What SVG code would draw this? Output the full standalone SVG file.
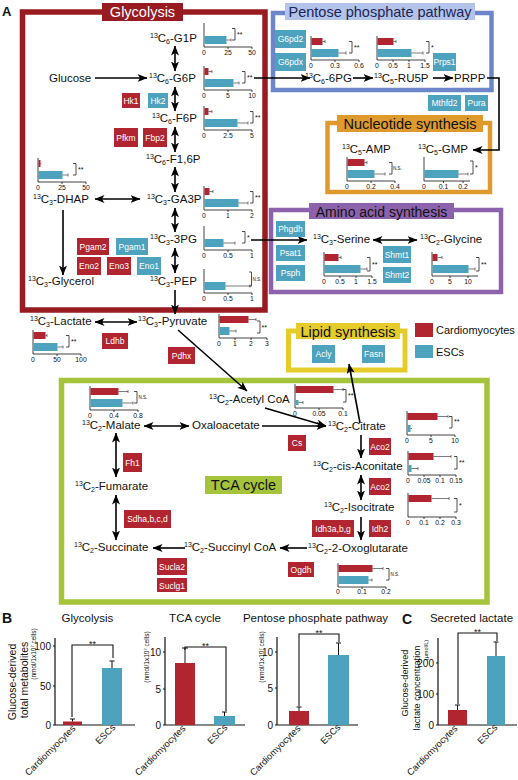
<svg xmlns="http://www.w3.org/2000/svg" width="518" height="780" viewBox="0 0 518 780">
<style>
text{font-family:"Liberation Sans",Arial,sans-serif;fill:#111}
.m{font-size:11.5px}
.s{font-size:7px}
.et{font-size:8.5px;fill:#fff;text-anchor:middle}
.er{fill:#b0252f}
.eb{fill:#4da2bd}
.ax{fill:none;stroke:#111;stroke-width:0.8}
.tl{font-size:6.8px;text-anchor:middle}
.rb{fill:#b0252f}
.bb{fill:#4da2bd}
.err{fill:none;stroke:#444;stroke-width:0.7}
.br{fill:none;stroke:#222;stroke-width:0.8}
.st{font-size:7px}
.ns{font-size:4.5px}
.ar path{stroke:#000;stroke-width:1.6;fill:none}
.bax{fill:none;stroke:#111;stroke-width:1.2}
.bl{font-size:10px;text-anchor:end}
.pt{font-size:11.5px;text-anchor:middle}
.bt{font-size:14.5px;text-anchor:middle}
.xl{font-size:9.3px;text-anchor:end}
.bbr{fill:none;stroke:#111;stroke-width:1.1}
</style>
<defs>
<marker id="ah" viewBox="0 0 10 8" refX="9.5" refY="4" markerWidth="10" markerHeight="8" markerUnits="userSpaceOnUse" orient="auto-start-reverse"><path d="M0,0 L10,4 L0,8 L2.5,4 z" fill="#000"/></marker>
</defs>
<rect width="518" height="780" fill="#fff"/>

<!-- pathway boxes -->
<g id="box-glycolysis">
<rect x="22.5" y="12" width="242.5" height="298" fill="none" stroke="#971b20" stroke-width="5.5"/>
<rect x="102" y="3" width="81" height="18" fill="#971b20"/>
<text class="bt" x="142.5" y="17" style="fill:#fff">Glycolysis</text>
</g>
<g id="box-ppp">
<rect x="273" y="13" width="218.5" height="77" fill="none" stroke="#6d86c9" stroke-width="4.5"/>
<rect x="285" y="3" width="190" height="17" fill="#b3c3ea"/>
<text class="bt" x="380" y="16.5" style="fill:#1c2554">Pentose phosphate pathway</text>
</g>
<g id="box-nucleotide">
<rect x="327.5" y="123" width="162.5" height="69" fill="none" stroke="#df9a2e" stroke-width="4.5"/>
<rect x="337" y="115" width="146" height="17" fill="#df9a2e"/>
<text class="bt" x="410" y="128.5">Nucleotide synthesis</text>
</g>
<g id="box-amino">
<rect x="271" y="210" width="230" height="82" fill="none" stroke="#8c62ad" stroke-width="4.5"/>
<rect x="309" y="203" width="145" height="16" fill="#8c62ad"/>
<text class="bt" x="381.5" y="216.5" style="font-size:14px">Amino acid synthesis</text>
</g>
<g id="box-lipid">
<rect x="288.5" y="331" width="116.5" height="39" fill="none" stroke="#e6cc2b" stroke-width="5"/>
<rect x="296" y="323" width="104" height="16" fill="#e6cc2b"/>
<text class="bt" x="348" y="337">Lipid synthesis</text>
</g>
<g id="box-tca">
<rect x="61.5" y="380.5" width="425.5" height="221.5" fill="none" stroke="#a5c43c" stroke-width="5.5"/>
<rect x="205" y="476" width="77" height="18" fill="#a5c43c"/>
<text class="bt" x="243.5" y="490">TCA cycle</text>
</g>

<text x="2" y="16" style="font-size:13px;font-weight:bold">A</text>

<!-- legend -->
<g id="legend">
<rect x="415" y="323" width="18" height="14" class="rb"/>
<text x="436" y="334" style="font-size:11px">Cardiomyocytes</text>
<rect x="415" y="345" width="18" height="13" class="bb"/>
<text x="436" y="356" style="font-size:11px">ESCs</text>
</g>

<!-- connectors -->
<g id="connectors" class="ar">
<path d="M95,78H147" marker-end="url(#ah)"/>
<path d="M175,46V71" marker-start="url(#ah)" marker-end="url(#ah)"/>
<path d="M175,87V111" marker-start="url(#ah)" marker-end="url(#ah)"/>
<path d="M175,127V152" marker-start="url(#ah)" marker-end="url(#ah)"/>
<path d="M175,167V192" marker-start="url(#ah)" marker-end="url(#ah)"/>
<path d="M95,199H140" marker-start="url(#ah)" marker-end="url(#ah)"/>
<path d="M63,210V275" marker-end="url(#ah)"/>
<path d="M175,208V232" marker-start="url(#ah)" marker-end="url(#ah)"/>
<path d="M175,248V273" marker-start="url(#ah)" marker-end="url(#ah)"/>
<path d="M175,290V314" marker-end="url(#ah)"/>
<path d="M95,322H137" marker-start="url(#ah)" marker-end="url(#ah)"/>
<path d="M254,78H310" marker-end="url(#ah)"/>
<path d="M353,78H373" marker-end="url(#ah)"/>
<path d="M433,78H453" marker-end="url(#ah)"/>
<path d="M487,78H499V150H473" marker-end="url(#ah)"/>
<path d="M251,240H307" marker-end="url(#ah)"/>
<path d="M373,240H417" marker-start="url(#ah)" marker-end="url(#ah)"/>
<path d="M178,330L247,391" marker-end="url(#ah)"/>
<path d="M265,408L326,426" marker-end="url(#ah)"/>
<path d="M262,426H326" marker-end="url(#ah)"/>
<path d="M144,426H189" marker-start="url(#ah)" marker-end="url(#ah)"/>
<path d="M360,423L349,364" marker-end="url(#ah)"/>
<path d="M361,435V458" marker-end="url(#ah)"/>
<path d="M361,475V500" marker-start="url(#ah)" marker-end="url(#ah)"/>
<path d="M361,517V540" marker-end="url(#ah)"/>
<path d="M307,548H280" marker-end="url(#ah)"/>
<path d="M185,548H153" marker-end="url(#ah)"/>
<path d="M116,495V540" marker-start="url(#ah)" marker-end="url(#ah)"/>
<path d="M116,433V477" marker-start="url(#ah)" marker-end="url(#ah)"/>
</g>

<!-- metabolite nodes -->
<g id="n-glucose"><text class="m" x="49" y="82">Glucose</text></g>
<g id="n-g1p"><text class="m" x="150" y="42"><tspan class="s" dy="-4.5">13</tspan><tspan dy="4.5">C</tspan><tspan class="s" dy="1.5">6</tspan><tspan dy="-1.5">-G1P</tspan></text></g>
<g id="n-g6p"><text class="m" x="149" y="82"><tspan class="s" dy="-4.5">13</tspan><tspan dy="4.5">C</tspan><tspan class="s" dy="1.5">6</tspan><tspan dy="-1.5">-G6P</tspan></text></g>
<g id="n-f6p"><text class="m" x="152" y="122"><tspan class="s" dy="-4.5">13</tspan><tspan dy="4.5">C</tspan><tspan class="s" dy="1.5">6</tspan><tspan dy="-1.5">-F6P</tspan></text></g>
<g id="n-f16p"><text class="m" x="146" y="163"><tspan class="s" dy="-4.5">13</tspan><tspan dy="4.5">C</tspan><tspan class="s" dy="1.5">6</tspan><tspan dy="-1.5">-F1,6P</tspan></text></g>
<g id="n-dhap"><text class="m" x="33" y="203"><tspan class="s" dy="-4.5">13</tspan><tspan dy="4.5">C</tspan><tspan class="s" dy="1.5">3</tspan><tspan dy="-1.5">-DHAP</tspan></text></g>
<g id="n-ga3p"><text class="m" x="147" y="203"><tspan class="s" dy="-4.5">13</tspan><tspan dy="4.5">C</tspan><tspan class="s" dy="1.5">3</tspan><tspan dy="-1.5">-GA3P</tspan></text></g>
<g id="n-3pg"><text class="m" x="150" y="243"><tspan class="s" dy="-4.5">13</tspan><tspan dy="4.5">C</tspan><tspan class="s" dy="1.5">3</tspan><tspan dy="-1.5">-3PG</tspan></text></g>
<g id="n-glycerol"><text class="m" x="28" y="285"><tspan class="s" dy="-4.5">13</tspan><tspan dy="4.5">C</tspan><tspan class="s" dy="1.5">3</tspan><tspan dy="-1.5">-Glycerol</tspan></text></g>
<g id="n-pep"><text class="m" x="150" y="285"><tspan class="s" dy="-4.5">13</tspan><tspan dy="4.5">C</tspan><tspan class="s" dy="1.5">3</tspan><tspan dy="-1.5">-PEP</tspan></text></g>
<g id="n-lactate"><text class="m" x="30" y="325"><tspan class="s" dy="-4.5">13</tspan><tspan dy="4.5">C</tspan><tspan class="s" dy="1.5">3</tspan><tspan dy="-1.5">-Lactate</tspan></text></g>
<g id="n-pyruvate"><text class="m" x="138" y="325"><tspan class="s" dy="-4.5">13</tspan><tspan dy="4.5">C</tspan><tspan class="s" dy="1.5">3</tspan><tspan dy="-1.5">-Pyruvate</tspan></text></g>
<g id="n-6pg"><text class="m" x="305" y="82"><tspan class="s" dy="-4.5">13</tspan><tspan dy="4.5">C</tspan><tspan class="s" dy="1.5">6</tspan><tspan dy="-1.5">-6PG</tspan></text></g>
<g id="n-ru5p"><text class="m" x="374" y="82"><tspan class="s" dy="-4.5">13</tspan><tspan dy="4.5">C</tspan><tspan class="s" dy="1.5">5</tspan><tspan dy="-1.5">-RU5P</tspan></text></g>
<g id="n-prpp"><text class="m" x="454" y="82">PRPP</text></g>
<g id="n-amp"><text class="m" x="342" y="153"><tspan class="s" dy="-4.5">13</tspan><tspan dy="4.5">C</tspan><tspan class="s" dy="1.5">5</tspan><tspan dy="-1.5">-AMP</tspan></text></g>
<g id="n-gmp"><text class="m" x="418" y="153"><tspan class="s" dy="-4.5">13</tspan><tspan dy="4.5">C</tspan><tspan class="s" dy="1.5">5</tspan><tspan dy="-1.5">-GMP</tspan></text></g>
<g id="n-serine"><text class="m" x="313" y="243"><tspan class="s" dy="-4.5">13</tspan><tspan dy="4.5">C</tspan><tspan class="s" dy="1.5">3</tspan><tspan dy="-1.5">-Serine</tspan></text></g>
<g id="n-glycine"><text class="m" x="420" y="243"><tspan class="s" dy="-4.5">13</tspan><tspan dy="4.5">C</tspan><tspan class="s" dy="1.5">2</tspan><tspan dy="-1.5">-Glycine</tspan></text></g>
<g id="n-acetylcoa"><text class="m" x="209" y="403"><tspan class="s" dy="-4.5">13</tspan><tspan dy="4.5">C</tspan><tspan class="s" dy="1.5">2</tspan><tspan dy="-1.5">-Acetyl CoA</tspan></text></g>
<g id="n-malate"><text class="m" x="82" y="429"><tspan class="s" dy="-4.5">13</tspan><tspan dy="4.5">C</tspan><tspan class="s" dy="1.5">2</tspan><tspan dy="-1.5">-Malate</tspan></text></g>
<g id="n-oxaloacetate"><text class="m" x="192" y="429">Oxaloacetate</text></g>
<g id="n-citrate"><text class="m" x="328" y="430"><tspan class="s" dy="-4.5">13</tspan><tspan dy="4.5">C</tspan><tspan class="s" dy="1.5">2</tspan><tspan dy="-1.5">-Citrate</tspan></text></g>
<g id="n-cisaconitate"><text class="m" x="313" y="470"><tspan class="s" dy="-4.5">13</tspan><tspan dy="4.5">C</tspan><tspan class="s" dy="1.5">2</tspan><tspan dy="-1.5">-cis-Aconitate</tspan></text></g>
<g id="n-isocitrate"><text class="m" x="324" y="511"><tspan class="s" dy="-4.5">13</tspan><tspan dy="4.5">C</tspan><tspan class="s" dy="1.5">2</tspan><tspan dy="-1.5">-Isocitrate</tspan></text></g>
<g id="n-oxoglutarate"><text class="m" x="308" y="552"><tspan class="s" dy="-4.5">13</tspan><tspan dy="4.5">C</tspan><tspan class="s" dy="1.5">2</tspan><tspan dy="-1.5">-2-Oxoglutarate</tspan></text></g>
<g id="n-succinylcoa"><text class="m" x="184" y="551"><tspan class="s" dy="-4.5">13</tspan><tspan dy="4.5">C</tspan><tspan class="s" dy="1.5">2</tspan><tspan dy="-1.5">-Succinyl CoA</tspan></text></g>
<g id="n-succinate"><text class="m" x="74" y="551"><tspan class="s" dy="-4.5">13</tspan><tspan dy="4.5">C</tspan><tspan class="s" dy="1.5">2</tspan><tspan dy="-1.5">-Succinate</tspan></text></g>
<g id="n-fumarate"><text class="m" x="75" y="490"><tspan class="s" dy="-4.5">13</tspan><tspan dy="4.5">C</tspan><tspan class="s" dy="1.5">2</tspan><tspan dy="-1.5">-Fumarate</tspan></text></g>

<!-- enzymes -->
<g id="e-hk1"><rect class="er" x="122" y="93" width="18" height="15"/><text class="et" x="131" y="103.5">Hk1</text></g>
<g id="e-hk2"><rect class="eb" x="148" y="93" width="20" height="15"/><text class="et" x="158" y="103.5">Hk2</text></g>
<g id="e-pfkm"><rect class="er" x="114" y="128" width="24" height="19"/><text class="et" x="126" y="140.5">Pfkm</text></g>
<g id="e-fbp2"><rect class="er" x="143" y="128" width="24" height="19"/><text class="et" x="155" y="140.5">Fbp2</text></g>
<g id="e-pgam2"><rect class="er" x="77" y="238" width="32" height="17"/><text class="et" x="93" y="249.5">Pgam2</text></g>
<g id="e-pgam1"><rect class="eb" x="116" y="238" width="32" height="17"/><text class="et" x="132" y="249.5">Pgam1</text></g>
<g id="e-eno2"><rect class="er" x="77" y="257" width="24" height="18"/><text class="et" x="89" y="269">Eno2</text></g>
<g id="e-eno3"><rect class="er" x="107" y="257" width="24" height="18"/><text class="et" x="119" y="269">Eno3</text></g>
<g id="e-eno1"><rect class="eb" x="137" y="257" width="24" height="18"/><text class="et" x="149" y="269">Eno1</text></g>
<g id="e-ldhb"><rect class="er" x="102" y="333" width="26" height="16"/><text class="et" x="115" y="344">Ldhb</text></g>
<g id="e-pdhx"><rect class="er" x="168" y="347" width="27" height="17"/><text class="et" x="181.5" y="358.5">Pdhx</text></g>
<g id="e-g6pd2"><rect class="eb" x="275" y="30" width="31" height="18"/><text class="et" x="290.5" y="42">G6pd2</text></g>
<g id="e-g6pdx"><rect class="eb" x="275" y="53" width="31" height="18"/><text class="et" x="290.5" y="65">G6pdx</text></g>
<g id="e-prps1"><rect class="eb" x="433" y="53" width="23" height="18"/><text class="et" x="444.5" y="65">Prps1</text></g>
<g id="e-mthfd2"><rect class="eb" x="428" y="95" width="33" height="16"/><text class="et" x="444.5" y="106">Mthfd2</text></g>
<g id="e-pura"><rect class="eb" x="465" y="95" width="23" height="16"/><text class="et" x="476.5" y="106">Pura</text></g>
<g id="e-phgdh"><rect class="eb" x="276" y="221" width="29" height="16"/><text class="et" x="290.5" y="232">Phgdh</text></g>
<g id="e-psat1"><rect class="eb" x="276" y="245" width="29" height="16"/><text class="et" x="290.5" y="256">Psat1</text></g>
<g id="e-psph"><rect class="eb" x="276" y="265" width="29" height="16"/><text class="et" x="290.5" y="276">Psph</text></g>
<g id="e-shmt1"><rect class="eb" x="383" y="246" width="28" height="17"/><text class="et" x="397" y="257.5">Shmt1</text></g>
<g id="e-shmt2"><rect class="eb" x="383" y="267" width="28" height="16"/><text class="et" x="397" y="278">Shmt2</text></g>
<g id="e-acly"><rect class="eb" x="312" y="345" width="23" height="18"/><text class="et" x="323.5" y="357">Acly</text></g>
<g id="e-fasn"><rect class="eb" x="362" y="345" width="23" height="18"/><text class="et" x="373.5" y="357">Fasn</text></g>
<g id="e-cs"><rect class="er" x="288" y="435" width="18" height="16"/><text class="et" x="297" y="446">Cs</text></g>
<g id="e-fh1"><rect class="er" x="123" y="453" width="19" height="19"/><text class="et" x="132.5" y="465.5">Fh1</text></g>
<g id="e-aco2a"><rect class="er" x="369" y="438" width="22" height="17"/><text class="et" x="380" y="449.5">Aco2</text></g>
<g id="e-aco2b"><rect class="er" x="369" y="478" width="22" height="17"/><text class="et" x="380" y="489.5">Aco2</text></g>
<g id="e-idh3"><rect class="er" x="312" y="520" width="42" height="17"/><text class="et" x="333" y="531.5">Idh3a,b,g</text></g>
<g id="e-idh2"><rect class="er" x="369" y="520" width="22" height="17"/><text class="et" x="380" y="531.5">Idh2</text></g>
<g id="e-sdh"><rect class="er" x="124" y="510" width="47" height="18"/><text class="et" x="147.5" y="522">Sdha,b,c,d</text></g>
<g id="e-ogdh"><rect class="er" x="288" y="562" width="26" height="15"/><text class="et" x="301" y="572.5">Ogdh</text></g>
<g id="e-sucla2"><rect class="er" x="157" y="558" width="30" height="17"/><text class="et" x="172" y="569.5">Sucla2</text></g>
<g id="e-suclg1"><rect class="er" x="157" y="578" width="30" height="14"/><text class="et" x="172" y="588.5">Suclg1</text></g>

<!-- small bar charts -->
<g id="c-g1p" transform="translate(204,23)">
<path class="ax" d="M0,0V24H48M24,24v2M48,24v2"/>
<text class="tl" x="0" y="32">0</text><text class="tl" x="24" y="32">25</text><text class="tl" x="48" y="32">50</text>
<rect class="bb" x="0.5" y="13" width="22" height="8"/>
<path class="err" d="M22.5,17H27M27,15.5V18.5"/>
<path class="br" d="M28,5.5H31V17H28"/><text class="st" x="33" y="14">**</text>
</g>
<g id="c-g6p" transform="translate(204,66)">
<path class="ax" d="M0,0V24H48M24,24v2M48,24v2"/>
<text class="tl" x="0" y="32">0</text><text class="tl" x="24" y="32">5</text><text class="tl" x="48" y="32">10</text>
<rect class="rb" x="0.5" y="2" width="4" height="7"/><path class="err" d="M4.5,5.5H8M8,4V7"/>
<rect class="bb" x="0.5" y="13" width="29" height="8"/><path class="err" d="M29.5,17H35M35,15.5V18.5"/>
<path class="br" d="M38,5.5H41V17H38"/><text class="st" x="43" y="14">**</text>
</g>
<g id="c-f6p" transform="translate(204,106)">
<path class="ax" d="M0,0V24H48M24,24v2M48,24v2"/>
<text class="tl" x="0" y="32">0</text><text class="tl" x="24" y="32">2.5</text><text class="tl" x="48" y="32">5</text>
<rect class="rb" x="0.5" y="2" width="4" height="7"/><path class="err" d="M4.5,5.5H8M8,4V7"/>
<rect class="bb" x="0.5" y="13" width="33" height="8"/><path class="err" d="M33.5,17H44M44,15.5V18.5"/>
<path class="br" d="M46,5.5H49V17H46"/><text class="st" x="51" y="14">**</text>
</g>
<g id="c-dhap" transform="translate(38,158)">
<path class="ax" d="M0,0V24H48M24,24v2M48,24v2"/>
<text class="tl" x="0" y="32">0</text><text class="tl" x="24" y="32">25</text><text class="tl" x="48" y="32">50</text>
<rect class="rb" x="0.5" y="2" width="2" height="7"/><path class="err" d="M2.5,5.5H3.5"/>
<rect class="bb" x="0.5" y="13" width="24" height="8"/><path class="err" d="M24.5,17H30M30,15.5V18.5"/>
<path class="br" d="M35,5.5H38V17H35"/><text class="st" x="40" y="14">**</text>
</g>
<g id="c-ga3p" transform="translate(204,186)">
<path class="ax" d="M0,0V24H48M24,24v2M48,24v2"/>
<text class="tl" x="0" y="32">0</text><text class="tl" x="24" y="32">1</text><text class="tl" x="48" y="32">2</text>
<rect class="rb" x="0.5" y="2" width="5" height="7"/><path class="err" d="M5.5,5.5H9M9,4V7"/>
<rect class="bb" x="0.5" y="13" width="34" height="8"/><path class="err" d="M34.5,17H44M44,15.5V18.5"/>
<path class="br" d="M46,5.5H49V17H46"/><text class="st" x="51" y="14">**</text>
</g>
<g id="c-3pg" transform="translate(204,226)">
<path class="ax" d="M0,0V24H48M24,24v2M48,24v2"/>
<text class="tl" x="0" y="32">0</text><text class="tl" x="24" y="32">0.5</text><text class="tl" x="48" y="32">1</text>
<rect class="bb" x="0.5" y="13" width="19" height="8"/><path class="err" d="M19.5,17H31M31,15.5V18.5"/>
<path class="br" d="M38,5.5H41V17H38"/><text class="st" x="43" y="14">*</text>
</g>
<g id="c-pep" transform="translate(204,269)">
<path class="ax" d="M0,0V24H48M24,24v2M48,24v2"/>
<text class="tl" x="0" y="32">0</text><text class="tl" x="24" y="32">0.5</text><text class="tl" x="48" y="32">1</text>
<rect class="bb" x="0.5" y="13" width="21" height="8"/><path class="err" d="M21.5,17H46M46,15.5V18.5"/>
<path class="br" d="M45,3H47.5V17H45"/><text class="ns" x="48.5" y="12">N.S.</text>
</g>
<g id="c-pyruvate" transform="translate(219,314)">
<path class="ax" d="M0,0V24H48M16,24v2M32,24v2M48,24v2"/>
<text class="tl" x="0" y="32">0</text><text class="tl" x="16" y="32">1</text><text class="tl" x="32" y="32">2</text><text class="tl" x="48" y="32">3</text>
<rect class="rb" x="0.5" y="2" width="29" height="7"/><path class="err" d="M29.5,5.5H37M37,4V7"/>
<rect class="bb" x="0.5" y="13" width="10" height="8"/><path class="err" d="M10.5,17H17M17,15.5V18.5"/>
<path class="br" d="M38,7H41V19H38"/><text class="st" x="42.5" y="16">**</text>
</g>
<g id="c-lactate" transform="translate(33,330)">
<path class="ax" d="M0,0V24H48M24,24v2M48,24v2"/>
<text class="tl" x="0" y="32">0</text><text class="tl" x="24" y="32">50</text><text class="tl" x="48" y="32">100</text>
<rect class="rb" x="0.5" y="2" width="12" height="7"/><path class="err" d="M12.5,5.5H14M14,4V7"/>
<rect class="bb" x="0.5" y="13" width="24" height="8"/><path class="err" d="M24.5,17H30M30,15.5V18.5"/>
<path class="br" d="M33,5.5H36V17H33"/><text class="st" x="38" y="14">**</text>
</g>
<g id="c-6pg" transform="translate(311,36)">
<path class="ax" d="M0,0V24H48M24,24v2M48,24v2"/>
<text class="tl" x="0" y="32">0</text><text class="tl" x="24" y="32">0.3</text><text class="tl" x="48" y="32">0.6</text>
<rect class="rb" x="0.5" y="2" width="11" height="7"/><path class="err" d="M11.5,5.5H14M14,4V7"/>
<rect class="bb" x="0.5" y="13" width="27" height="8"/><path class="err" d="M27.5,17H35M35,15.5V18.5"/>
<path class="br" d="M38,5.5H41V17H38"/><text class="st" x="43" y="14">**</text>
</g>
<g id="c-ru5p" transform="translate(377,36)">
<path class="ax" d="M0,0V24H48M16,24v2M32,24v2M48,24v2"/>
<text class="tl" x="0" y="32">0</text><text class="tl" x="16" y="32">0.5</text><text class="tl" x="32" y="32">1</text><text class="tl" x="48" y="32">1.5</text>
<rect class="rb" x="0.5" y="2" width="16" height="7"/><path class="err" d="M16.5,5.5H19M19,4V7"/>
<rect class="bb" x="0.5" y="13" width="34" height="8"/><path class="err" d="M34.5,17H46M46,15.5V18.5"/>
<path class="br" d="M49,5.5H52V17H49"/><text class="st" x="54" y="14">*</text>
</g>
<g id="c-amp" transform="translate(347,157)">
<path class="ax" d="M0,0V24H48M24,24v2M48,24v2"/>
<text class="tl" x="0" y="32">0</text><text class="tl" x="24" y="32">0.2</text><text class="tl" x="48" y="32">0.4</text>
<rect class="rb" x="0.5" y="2" width="17" height="7"/><path class="err" d="M17.5,5.5H20M20,4V7"/>
<rect class="bb" x="0.5" y="13" width="27" height="8"/><path class="err" d="M27.5,17H38M38,15.5V18.5"/>
<path class="br" d="M42,5.5H45V17H42"/><text class="ns" x="46" y="13">N.S.</text>
</g>
<g id="c-gmp" transform="translate(424,157)">
<path class="ax" d="M0,0V24H46M19.5,24v2M39,24v2"/>
<text class="tl" x="0" y="32">0</text><text class="tl" x="19.5" y="32">0.1</text><text class="tl" x="39" y="32">0.2</text>
<rect class="bb" x="0.5" y="13" width="34" height="8"/><path class="err" d="M34.5,17H44M44,15.5V18.5"/>
<path class="br" d="M46,4H49V17H46"/><text class="st" x="51" y="13">*</text>
</g>
<g id="c-serine" transform="translate(324,252)">
<path class="ax" d="M0,0V24H48M16,24v2M32,24v2M48,24v2"/>
<text class="tl" x="0" y="32">0</text><text class="tl" x="16" y="32">0.5</text><text class="tl" x="32" y="32">1</text><text class="tl" x="48" y="32">1.5</text>
<rect class="rb" x="0.5" y="2" width="14" height="7"/><path class="err" d="M14.5,5.5H17M17,4V7"/>
<rect class="bb" x="0.5" y="13" width="36" height="8"/><path class="err" d="M36.5,17H43M43,15.5V18.5"/>
<path class="br" d="M43,5.5H46V19H43"/><text class="st" x="48" y="15">**</text>
</g>
<g id="c-glycine" transform="translate(432,252)">
<path class="ax" d="M0,0V24H46M18,24v2M36,24v2"/>
<text class="tl" x="0" y="32">0</text><text class="tl" x="18" y="32">5</text><text class="tl" x="36" y="32">10</text>
<rect class="rb" x="0.5" y="2" width="5" height="7"/><path class="err" d="M5.5,5.5H10M10,4V7"/>
<rect class="bb" x="0.5" y="13" width="36" height="8"/><path class="err" d="M36.5,17H43M43,15.5V18.5"/>
<path class="br" d="M44,5.5H47V19H44"/><text class="st" x="49" y="15">**</text>
</g>
<g id="c-acetylcoa" transform="translate(295,384)">
<path class="ax" d="M0,0V24H48M24,24v2M48,24v2"/>
<text class="tl" x="0" y="32">0</text><text class="tl" x="24" y="32">0.05</text><text class="tl" x="48" y="32">0.1</text>
<rect class="rb" x="0.5" y="2" width="38" height="7"/><path class="err" d="M38.5,5.5H48M48,4V7"/>
<rect class="bb" x="0.5" y="16" width="3" height="5"/><path class="err" d="M3.5,18.5H8M8,17V20"/>
<path class="br" d="M48,5.5H51V18H48"/><text class="st" x="53" y="14">**</text>
</g>
<g id="c-malate" transform="translate(90,386)">
<path class="ax" d="M0,0V24H48M24,24v2M48,24v2"/>
<text class="tl" x="0" y="32">0</text><text class="tl" x="24" y="32">0.4</text><text class="tl" x="48" y="32">0.8</text>
<rect class="rb" x="0.5" y="2" width="28" height="7"/><path class="err" d="M28.5,5.5H38M38,4V7"/>
<rect class="bb" x="0.5" y="13" width="32" height="8"/><path class="err" d="M32.5,17H43M43,15.5V18.5"/>
<path class="br" d="M44,5.5H47V17H44"/><text class="ns" x="48.5" y="13">N.S.</text>
</g>
<g id="c-citrate" transform="translate(407,411)">
<path class="ax" d="M0,0V24H48M24,24v2M48,24v2"/>
<text class="tl" x="0" y="32">0</text><text class="tl" x="24" y="32">5</text><text class="tl" x="48" y="32">10</text>
<rect class="rb" x="0.5" y="2" width="30" height="7"/><path class="err" d="M30.5,5.5H41M41,4V7"/>
<rect class="bb" x="0.5" y="14" width="3" height="7"/><path class="err" d="M3.5,17.5H5"/>
<path class="br" d="M42,5.5H45V17H42"/><text class="st" x="47" y="13">**</text>
</g>
<g id="c-cisaconitate" transform="translate(408,451)">
<path class="ax" d="M0,0V24H48M16,24v2M32,24v2M48,24v2"/>
<text class="tl" x="0" y="32">0</text><text class="tl" x="16" y="32">0.05</text><text class="tl" x="32" y="32">0.1</text><text class="tl" x="48" y="32">0.15</text>
<rect class="rb" x="0.5" y="2" width="25" height="7"/><path class="err" d="M25.5,5.5H43M43,4V7"/>
<rect class="bb" x="0.5" y="14" width="3" height="7"/><path class="err" d="M3.5,17.5H10M10,16V19"/>
<path class="br" d="M46,5.5H49V18H46"/><text class="st" x="51" y="14">**</text>
</g>
<g id="c-isocitrate" transform="translate(408,493)">
<path class="ax" d="M0,0V24H48M16,24v2M32,24v2M48,24v2"/>
<text class="tl" x="0" y="32">0</text><text class="tl" x="16" y="32">0.1</text><text class="tl" x="32" y="32">0.2</text><text class="tl" x="48" y="32">0.3</text>
<rect class="rb" x="0.5" y="2" width="23" height="7"/><path class="err" d="M23.5,5.5H41M41,4V7"/>
<path class="br" d="M46,5.5H49V19H46"/><text class="st" x="51" y="15">*</text>
</g>
<g id="c-oxoglutarate" transform="translate(338,563)">
<path class="ax" d="M0,0V24H48M24,24v2M48,24v2"/>
<text class="tl" x="0" y="31">0</text><text class="tl" x="24" y="31">0.1</text><text class="tl" x="48" y="31">0.2</text>
<rect class="rb" x="0.5" y="2" width="34" height="7"/><path class="err" d="M34.5,5.5H45M45,4V7"/>
<rect class="bb" x="0.5" y="13" width="30" height="8"/><path class="err" d="M30.5,17H34M34,15.5V18.5"/>
<path class="br" d="M48,5.5H51V17H48"/><text class="ns" x="52.5" y="13">N.S.</text>
</g>

<!-- Panel B -->
<text x="2" y="623" style="font-size:14px;font-weight:bold">B</text>
<g id="ylab-b">
<text class="pt" transform="translate(15.5,682) rotate(-90)" style="font-size:10.5px">Glucose-derived</text>
<text class="pt" transform="translate(27.5,680) rotate(-90)" style="font-size:10.5px">total metabolites</text>
<text class="pt" transform="translate(35.5,654) rotate(-90)" style="font-size:6.5px">(nmol/1x10<tspan dy="-2" style="font-size:4px">7</tspan><tspan dy="2"> cells)</tspan></text>
</g>
<g id="chart-b-gly">
<text class="pt" x="87.5" y="622">Glycolysis</text>
<path class="bax" d="M55,638V725H135M55,646h-2M55,686h-2M55,725h-2"/>
<text class="bl" x="51" y="650">100</text><text class="bl" x="51" y="690">50</text><text class="bl" x="51" y="729">0</text>
<rect class="rb" x="63" y="721.5" width="19" height="3.5"/>
<path class="err" style="stroke:#111;stroke-width:1" d="M72.5,721.5V719M70,719H75"/>
<rect class="bb" x="102" y="668" width="20" height="57"/>
<path class="err" style="stroke:#111;stroke-width:1" d="M112,668V661M109.5,661H114.5"/>
<path class="bbr" d="M72,717V645H113V658"/>
<text class="pt" x="92.5" y="647" style="font-size:9px">**</text>
<text class="xl" transform="translate(76,729) rotate(-45)">Cardiomyocytes</text>
<text class="xl" transform="translate(116,728) rotate(-45)">ESCs</text>
</g>
<g id="chart-b-tca">
<text class="pt" x="195" y="622">TCA cycle</text>
<text class="pt" transform="translate(148.5,657) rotate(-90)" style="font-size:6.5px">(nmol/1x10<tspan dy="-2" style="font-size:4px">7</tspan><tspan dy="2"> cells)</tspan></text>
<path class="bax" d="M165,637V725H245M165,652h-2M165,689h-2M165,725h-2"/>
<text class="bl" x="161" y="656">10</text><text class="bl" x="161" y="693">5</text><text class="bl" x="161" y="729">0</text>
<rect class="rb" x="175" y="663" width="20" height="62"/>
<path class="err" style="stroke:#111;stroke-width:1" d="M185,663V648M182,648H188"/>
<rect class="bb" x="214" y="716" width="21" height="9"/>
<path class="err" style="stroke:#111;stroke-width:1" d="M224.5,716V712M222,712H227"/>
<path class="bbr" d="M185,650V647H226V711"/>
<text class="pt" x="205.5" y="649" style="font-size:9px">**</text>
<text class="xl" transform="translate(186,729) rotate(-45)">Cardiomyocytes</text>
<text class="xl" transform="translate(228,728) rotate(-45)">ESCs</text>
</g>
<g id="chart-b-ppp">
<text class="pt" x="315.5" y="622">Pentose phosphate pathway</text>
<text class="pt" transform="translate(263.5,657) rotate(-90)" style="font-size:6.5px">(nmol/1x10<tspan dy="-2" style="font-size:4px">7</tspan><tspan dy="2"> cells)</tspan></text>
<path class="bax" d="M277,637V725H358M277,652h-2M277,688h-2M277,725h-2"/>
<text class="bl" x="273" y="656">10</text><text class="bl" x="273" y="692">5</text><text class="bl" x="273" y="729">0</text>
<rect class="rb" x="289" y="711" width="20" height="14"/>
<path class="err" style="stroke:#111;stroke-width:1" d="M299,711V707M296.5,707H301.5"/>
<rect class="bb" x="328" y="655" width="21" height="70"/>
<path class="err" style="stroke:#111;stroke-width:1" d="M338.5,655V643M336,643H341"/>
<path class="bbr" d="M299,706V634H339V642"/>
<text class="pt" x="319" y="636" style="font-size:9px">**</text>
<text class="xl" transform="translate(301,729) rotate(-45)">Cardiomyocytes</text>
<text class="xl" transform="translate(341,728) rotate(-45)">ESCs</text>
</g>

<!-- Panel C -->
<text x="402" y="624" style="font-size:14px;font-weight:bold">C</text>
<g id="chart-c">
<text class="pt" x="471.5" y="622">Secreted lactate</text>
<text class="pt" transform="translate(408,683) rotate(-90)" style="font-size:9.2px">Glucose-derived</text>
<text class="pt" transform="translate(420,688) rotate(-90)" style="font-size:9.2px">lactate concentration</text>
<text class="pt" transform="translate(428,650) rotate(-90)" style="font-size:5.5px">(µmol/L)</text>
<path class="bax" d="M438,638V725H517M438,663h-2M438,694h-2M438,725h-2"/>
<text class="bl" x="434" y="667">200</text><text class="bl" x="434" y="698">100</text><text class="bl" x="434" y="729">0</text>
<rect class="rb" x="448" y="710" width="19" height="15"/>
<path class="err" style="stroke:#111;stroke-width:1" d="M457.5,710V705M455,705H460"/>
<rect class="bb" x="487" y="656" width="18" height="69"/>
<path class="err" style="stroke:#111;stroke-width:1" d="M496,656V642M493.5,642H498.5"/>
<path class="bbr" d="M458,704V633H497V641"/>
<text class="pt" x="477.5" y="635" style="font-size:9px">**</text>
<text class="xl" transform="translate(458,729) rotate(-45)">Cardiomyocytes</text>
<text class="xl" transform="translate(498,728) rotate(-45)">ESCs</text>
</g>
</svg>
